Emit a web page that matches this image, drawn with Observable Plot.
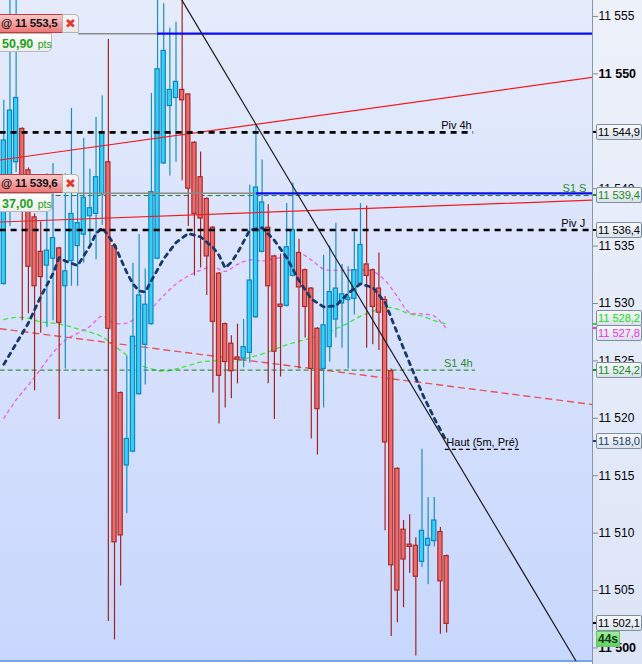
<!DOCTYPE html>
<html>
<head>
<meta charset="utf-8">
<script src="https://cdn.jsdelivr.net/npm/d3@7"></script>
<script src="https://cdn.jsdelivr.net/npm/@observablehq/plot@0.6"></script>
<style>
  body { margin: 0; font-family: "Liberation Sans", Arial, sans-serif; }
  #wrap { position: relative; width: 642px; height: 664px; overflow: hidden; }
  #plotbg { position: absolute; left: 0; top: 0; width: 592px; height: 660px;
    background: linear-gradient(#e5ebfb, #c8d7fd); border-bottom: 2px solid #7ba2ee; }
  #axisbg { position: absolute; left: 592px; top: 0; width: 50px; height: 664px;
    background: linear-gradient(#edf1fa, #dce5f7); border-left: 1px solid #8797a8; }
  #chart { position: absolute; left: 0; top: 0; }
  .abox { position: absolute; left: 596px; width: 43px; height: 14px; line-height: 14px;
    font-size: 11.2px; letter-spacing: -0.1px; padding-left: 1px; border: 1px solid #7d8fa0; border-radius: 2px;
    background: linear-gradient(#f7f9fb, #d9e1ea); white-space: nowrap; overflow: hidden; }
  .astub { position: absolute; left: 593px; width: 4px; height: 2px; }
  .timer { position: absolute; left: 596px; width: 22px; height: 14px; line-height: 14px;
    font-size: 12px; font-weight: bold; text-align: center; color: #163a16;
    background: linear-gradient(#9ef09e, #5fd35f); border: 1px solid #6cbf6c; }
  .order { position: absolute; left: -4px; width: 61px; height: 17px; line-height: 17px;
    font-size: 11.5px; font-weight: bold; letter-spacing: -0.2px; padding-left: 4px; border: 1px solid #c8393b;
    background: linear-gradient(#fbc8c8, #ee7878); color: #111; white-space: nowrap; }
  .close { position: absolute; left: 62px; width: 15px; height: 17px; line-height: 17px;
    font-size: 13px; text-align: center; color: #e23a3a; border: 1px solid #b4b4b4;
    border-radius: 0 4px 0 0; background: linear-gradient(#f8f8f8, #e6e6e6); }
  .pts { position: absolute; left: -4px; width: 49px; height: 17px; line-height: 17px;
    padding-left: 5px; border: 1px solid #b8b8b8; border-radius: 0 0 5px 0;
    background: linear-gradient(#ffffff, #eeeeee); color: #1fa01f; white-space: nowrap; }
  .pts b { font-size: 12.5px; font-weight: bold; }
  .pts span { font-size: 10.5px; }
</style>
</head>
<body>
<div id="wrap">
  <div id="plotbg"></div>
  <div id="axisbg"></div>
  <div id="chart"></div>
</div>
<script>
// 5 minute candles, left to right
const opens = [11531.7, 11539.0, 11542.3, 11545.2, 11541.6, 11537.5, 11534.5, 11533.3, 11533.9, 11534.8,
  11531.5, 11533.7, 11535.0, 11536.0, 11537.6, 11537.8, 11539.5, 11542.3, 11535.0, 11522.2,
  11515.9, 11517.1, 11522.1, 11526.4, 11528.2, 11533.9, 11542.2, 11547.2, 11547.9, 11548.6,
  11548.2, 11544.0, 11541.0, 11539.1, 11536.6, 11532.6, 11528.2, 11526.5, 11525.3, 11525.2,
  11525.7, 11528.8, 11534.5, 11536.6, 11534.1, 11529.9, 11529.8, 11532.4, 11534.4, 11532.9,
  11531.3, 11527.8, 11524.3, 11526.2, 11528.6, 11530.0, 11530.3, 11530.4, 11531.7, 11533.4,
  11532.9, 11531.3, 11530.3, 11524.1, 11515.6, 11510.3, 11509.0, 11508.9, 11507.5, 11508.9,
  11509.3, 11510.1, 11508.0];
const highs = [11547.7, 11556.4, 11556.4, 11545.3, 11541.8, 11537.8, 11537.1, 11541.3, 11542.2, 11534.9,
  11541.3, 11547.0, 11540.7, 11544.4, 11541.7, 11546.2, 11548.1, 11553.0, 11535.1, 11522.3,
  11525.4, 11533.5, 11536.0, 11533.0, 11548.3, 11556.4, 11556.1, 11554.0, 11554.5, 11556.4,
  11548.3, 11544.1, 11543.2, 11539.2, 11536.7, 11532.7, 11528.3, 11527.2, 11528.2, 11528.6,
  11540.3, 11545.5, 11542.5, 11538.6, 11534.2, 11534.3, 11538.7, 11540.5, 11535.6, 11533.0,
  11531.4, 11527.9, 11534.2, 11535.0, 11537.0, 11533.4, 11533.2, 11536.2, 11538.7, 11538.5,
  11533.0, 11534.4, 11530.6, 11524.3, 11515.7, 11511.1, 11511.6, 11509.6, 11517.3, 11513.1,
  11513.1, 11510.5, 11508.1];
const lows = [11531.6, 11536.7, 11541.4, 11528.5, 11529.1, 11522.4, 11527.4, 11527.9, 11528.5, 11519.9,
  11524.3, 11531.5, 11531.5, 11533.5, 11535.2, 11533.8, 11536.8, 11502.3, 11500.7, 11505.4,
  11511.7, 11517.0, 11522.0, 11522.9, 11528.1, 11533.8, 11542.1, 11541.1, 11542.3, 11540.7,
  11536.7, 11532.4, 11533.1, 11530.7, 11522.2, 11519.5, 11520.9, 11521.7, 11523.0, 11524.4,
  11524.8, 11528.7, 11534.4, 11523.0, 11519.9, 11523.6, 11529.7, 11532.3, 11524.3, 11527.0,
  11518.2, 11516.8, 11520.9, 11524.9, 11527.0, 11526.1, 11524.3, 11529.0, 11531.6, 11526.1,
  11526.4, 11525.9, 11510.2, 11501.0, 11502.2, 11503.5, 11506.5, 11499.3, 11507.0, 11505.5,
  11508.8, 11501.2, 11501.3];
const closes = [11544.2, 11546.8, 11547.9, 11539.4, 11533.2, 11531.5, 11532.3, 11534.6, 11535.7, 11528.3,
  11532.8, 11537.8, 11537.0, 11539.2, 11538.3, 11541.0, 11544.9, 11527.8, 11509.2, 11509.8,
  11518.2, 11527.1, 11530.7, 11529.9, 11539.7, 11550.4, 11552.0, 11548.6, 11549.3, 11547.7,
  11540.0, 11537.8, 11537.4, 11534.1, 11528.4, 11523.7, 11524.9, 11524.1, 11525.1, 11526.2,
  11532.0, 11540.1, 11538.8, 11531.5, 11525.8, 11529.7, 11534.9, 11536.4, 11531.4, 11529.7,
  11524.3, 11520.8, 11528.1, 11531.0, 11531.3, 11530.8, 11530.5, 11532.9, 11535.1, 11532.4,
  11529.7, 11529.2, 11517.9, 11507.2, 11505.0, 11507.7, 11508.8, 11506.2, 11510.2, 11509.5,
  11511.1, 11505.8, 11502.1];

// moving averages (read at some candle indexes)
const navyIdx = [0, 2, 4, 6, 8, 9, 10, 12, 14, 15, 16, 17, 18, 19, 20, 21, 22, 23, 24, 26, 28, 30, 32, 34, 35,
  36, 37, 38, 40, 42, 44, 46, 48, 50, 52, 54, 56, 58, 60, 62, 64, 66, 68, 70, 72];
const navyVal = [11524.7, 11526.5, 11528.3, 11530.6, 11532.6, 11534.0, 11533.7, 11533.3, 11535.0, 11536.1,
  11536.6, 11535.9, 11535.1, 11533.9, 11532.7, 11531.7, 11531.1, 11531.0, 11532.0, 11533.9, 11535.3,
  11536.1, 11535.8, 11534.9, 11534.2, 11533.1, 11533.6, 11534.4, 11536.4, 11536.6, 11535.5, 11534.0,
  11532.0, 11530.4, 11529.7, 11529.8, 11530.9, 11531.7, 11531.4, 11530.1, 11527.4, 11524.8, 11522.2,
  11520.0, 11518.0];
const maIdx = [0, 2, 4, 6, 8, 10, 12, 14, 16, 18, 20, 22, 24, 26, 28, 30, 32, 34, 36, 38, 40, 42, 44, 46,
  48, 50, 52, 54, 56, 58, 60, 62, 64, 66, 68, 70, 72];
const pinkVal = [11520.0, 11521.6, 11522.9, 11524.3, 11525.7, 11526.8, 11527.4, 11528.0, 11528.9, 11528.3,
  11528.3, 11528.9, 11529.6, 11530.7, 11531.7, 11532.4, 11532.9, 11533.2, 11532.8, 11533.4, 11533.8,
  11533.7, 11533.9, 11534.1, 11534.4, 11533.8, 11533.0, 11532.9, 11532.9, 11532.9, 11532.8, 11532.0,
  11530.6, 11529.2, 11529.1, 11528.9, 11527.8];
const greenVal = [11528.6, 11528.8, 11528.7, 11528.4, 11528.3, 11528.1, 11527.8, 11527.5, 11527.1, 11526.3,
  11525.5, 11524.7, 11524.3, 11524.1, 11524.3, 11524.6, 11524.9, 11525.0, 11525.0, 11525.0, 11525.3,
  11525.6, 11526.0, 11526.4, 11526.7, 11527.0, 11527.3, 11527.8, 11528.3, 11528.9, 11529.3, 11529.7,
  11529.5, 11529.1, 11528.9, 11528.5, 11528.2];

// drawn trend lines: [index, price] at both ends
const redDash = [[-0.6, 11527.8], [95.8, 11521.2]];
const redUpper = [[-0.6, 11542.5], [95.8, 11549.7]];
const redLower = [[-0.6, 11537.1], [95.8, 11539.0]];
const diagonal = [[28.98, 11556.4], [93.45, 11498.5]];

// horizontal levels
const levelNames = ["Piv 4h", "Piv J", "S1 S", "S1 4h"];
const levelValues = [11544.9, 11536.4, 11539.4, 11524.2];
const levelEnd = [76.4, 95.8, 95.8, 76.7];
const levelLabelIdx = [73.6, 92.6, 92.8, 73.9];
const hautValue = 11517.3;
const hautSpan = [71.8, 84.0];
const orderValues = [11553.5, 11539.6];
const orderPts = ["50,90", "37,00"];
const orderStart = 12.2;
const blueStart = [25.0, 41.1];

// right axis
const tickValues = [11505, 11510, 11515, 11520, 11525, 11530, 11535, 11540, 11545, 11555];
const boldTicks = [11500, 11550];
const boxValues = [11544.9, 11539.4, 11536.4, 11528.2, 11527.8, 11524.2, 11518.0, 11502.1];
const boxColors = ["#000", "#1a8a1a", "#000", "#22dd22", "#ee33ee", "#1a8a1a", "#1b3d70", "#000"];
const timerText = "44s";

const xStart = -0.6;
const candles = opens.map((o, i) => ({i, o, h: highs[i], l: lows[i], c: closes[i]}));
const ups = candles.filter(d => d.c > d.o);
const downs = candles.filter(d => d.c <= d.o);
const navy = navyIdx.map((i, k) => ({i, v: navyVal[k]}));
const pink = maIdx.map((i, k) => ({i, v: pinkVal[k]}));
const green = maIdx.map((i, k) => ({i, v: greenVal[k]}));
const levels = levelNames.map((name, k) => ({name, v: levelValues[k], end: levelEnd[k], lx: levelLabelIdx[k]}));
const seg = pts => pts.map(([i, v]) => ({i, v}));

const fmt = v => d3.format(",")(v).replace(",", "\u00a0");
const fmt1 = v => d3.format(",.1f")(v).replace(",", "\u00a0").replace(".", ",");

const chart = Plot.plot({
  width: 642,
  height: 664,
  marginLeft: 0,
  marginRight: 50,
  marginTop: 0,
  marginBottom: 3,
  x: {domain: [-0.54, 95.73], axis: null},
  y: {domain: [11498.82, 11556.39]},
  style: {background: "transparent", fontFamily: "'Liberation Sans', Arial, sans-serif", overflow: "visible"},
  marks: [
    Plot.axisY(tickValues, {anchor: "right", tickSize: 5, tickPadding: 1, tickFormat: fmt, fontSize: 12,
      stroke: "#7f8c99", fill: "#000", label: null}),
    Plot.axisY(boldTicks, {anchor: "right", tickSize: 5, tickPadding: 1, tickFormat: fmt, fontSize: 12.5,
      fontWeight: "bold", stroke: "#7f8c99", fill: "#000", label: null}),
    // moving averages under the candles
    Plot.line(green, {x: "i", y: "v", stroke: "#3fe83f", strokeWidth: 1.3, strokeDasharray: "4,4", curve: "catmull-rom"}),
    Plot.line(pink, {x: "i", y: "v", stroke: "#f25cf2", strokeWidth: 1.3, strokeDasharray: "3,4", curve: "catmull-rom"}),
    Plot.line(seg(redDash), {x: "i", y: "v", stroke: "#f03c3c", strokeOpacity: 0.85, strokeWidth: 1.4, strokeDasharray: "6,5", clip: true}),
    Plot.ruleY(levels.filter(d => d.name.startsWith("S1")), {y: "v", x1: xStart, x2: "end", stroke: "#1d7d1d",
      strokeWidth: 1, strokeDasharray: "5,3", clip: true}),
    // candles
    Plot.ruleX(ups, {x: "i", y1: "l", y2: "h", stroke: "#1690c8", strokeWidth: 1.2}),
    Plot.ruleX(downs, {x: "i", y1: "l", y2: "h", stroke: "#a52222", strokeWidth: 1.2}),
    Plot.rect(ups, {x1: d => d.i - 0.34, x2: d => d.i + 0.34, y1: "o", y2: "c", fill: "#36cff6", stroke: "#0e86bf", strokeWidth: 1.2}),
    Plot.rect(downs, {x1: d => d.i - 0.34, x2: d => d.i + 0.34, y1: "o", y2: "c", fill: "#e86e6e", stroke: "#ad2727", strokeWidth: 1.2}),
    // lines over the candles
    Plot.line(navy, {x: "i", y: "v", stroke: "#17386b", strokeWidth: 2.8, strokeDasharray: "4,5"}),
    Plot.line(seg(redUpper), {x: "i", y: "v", stroke: "#f21e1e", strokeWidth: 1.2, clip: true}),
    Plot.line(seg(redLower), {x: "i", y: "v", stroke: "#f21e1e", strokeWidth: 1.2, clip: true}),
    Plot.ruleY(levels.filter(d => d.name.startsWith("Piv")), {y: "v", x1: xStart, x2: "end", stroke: "#000",
      strokeWidth: 2.6, strokeDasharray: "6,5", clip: true}),
    Plot.ruleY(orderValues, {y: d => d, x1: orderStart, x2: (d, k) => blueStart[k], stroke: "#8a8a8a", strokeWidth: 1.5}),
    Plot.ruleY(orderValues, {y: d => d, x1: (d, k) => blueStart[k], x2: 95.8, stroke: "#0a0af2", strokeWidth: 2.2, clip: true}),
    Plot.line(seg(diagonal), {x: "i", y: "v", stroke: "#1e1e1e", strokeWidth: 1.2, clip: true}),
    Plot.ruleY([hautValue], {x1: hautSpan[0], x2: hautSpan[1], stroke: "#000", strokeWidth: 1.3, strokeDasharray: "4,3"}),
    Plot.text(levels, {x: "lx", y: "v", text: "name", dy: -7, fontSize: 11,
      fill: d => d.name.startsWith("S1") ? "#2a8a2a" : "#000"}),
    Plot.text(["Haut (5m, Pré)"], {x: hautSpan[0], y: hautValue, text: d => d, dy: -7, dx: 1,
      textAnchor: "start", fontSize: 11, fill: "#000"})
  ]
});

document.getElementById("chart").appendChild(chart);

const ys = chart.scale("y");
const yPos = ys.apply ? v => ys.apply(v) : d3.scaleLinear(ys.domain, ys.range);
const wrap = document.getElementById("wrap");

function add(cls, top, html, extra) {
  const el = document.createElement("div");
  el.className = cls;
  el.style.top = top + "px";
  if (extra) Object.assign(el.style, extra);
  el.innerHTML = html;
  wrap.appendChild(el);
  return el;
}

// value boxes on the price axis, nudged apart when they would collide
const boxes = boxValues.map((v, k) => ({v, color: boxColors[k], y: yPos(v), pos: yPos(v)}))
  .sort((a, b) => a.y - b.y);
for (let k = 1; k < boxes.length; k++) {
  const a = boxes[k - 1], b = boxes[k];
  if (b.pos - a.pos < 15) {
    const mid = (a.pos + b.pos) / 2;
    a.pos = mid - 7.5;
    b.pos = mid + 7.5;
  }
}
boxes.forEach(b => {
  add("astub", Math.round(b.y) - 1, "", {background: b.color});
  add("abox", Math.round(b.pos) - 8, fmt1(b.v), {color: b.color});
});
add("timer", Math.round(yPos(boxValues[boxValues.length - 1])) + 8, timerText);

// pending order tags on the left
orderValues.forEach((v, k) => {
  const y = Math.round(yPos(v));
  add("order", y - 19, "@ " + fmt1(v));
  add("close", y - 19, "\u2716");
  add("pts", y, "<b>" + orderPts[k] + "</b> <span>pts</span>");
});
</script>
</body>
</html>
